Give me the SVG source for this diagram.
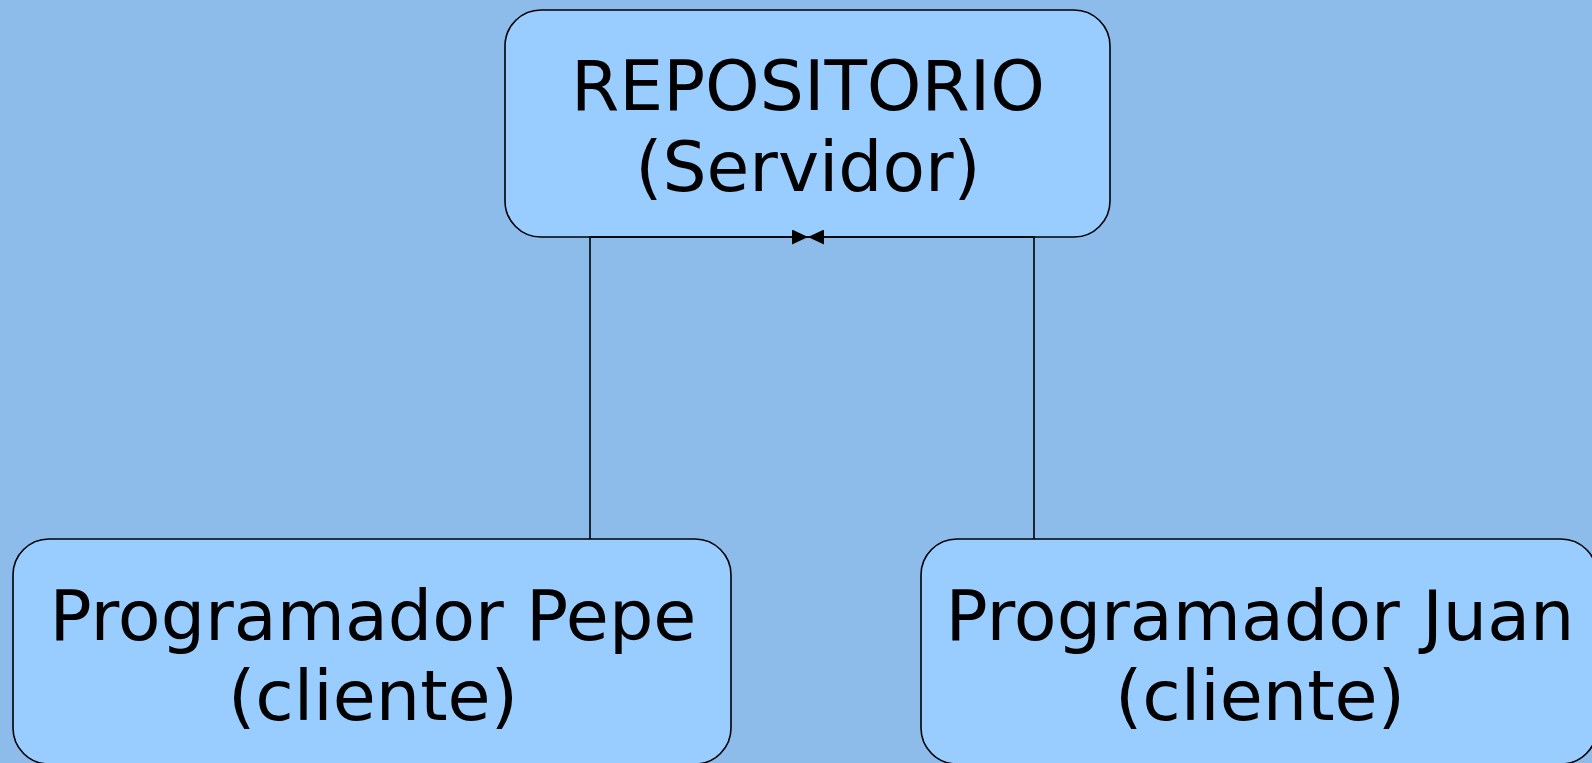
<svg xmlns="http://www.w3.org/2000/svg" width="1592" height="763" viewBox="0 0 1592 763">
<style>
.box{fill:#99ccff;stroke:#000;stroke-width:1.6}
.lbl{font-family:"DejaVu Sans","Liberation Sans",sans-serif;font-size:70px;fill:#000;text-anchor:middle}
.top{font-size:69.5px}
.con{fill:none;stroke:#000;stroke-width:1.6}
</style>
<defs>
<marker id="ah" viewBox="0 0 16 15" refX="16" refY="7.5" markerWidth="16" markerHeight="15" markerUnits="userSpaceOnUse" orient="auto">
<path d="M0,0 L16,7.5 L0,15 Z" fill="#000"/>
</marker>
</defs>
<rect x="0" y="0" width="1592" height="763" fill="#8dbceb"/>
<g id="repositorio">
<rect class="box" x="505" y="10" width="605" height="227" rx="36" ry="36"/>
<text class="lbl top" x="808" y="110">REPOSITORIO</text>
<text class="lbl top" x="808" y="191">(Servidor)</text>
</g>
<g id="pepe">
<rect class="box" x="13" y="539" width="718" height="225" rx="36" ry="36"/>
<text class="lbl" x="373" y="640">Programador Pepe</text>
<text class="lbl" x="373" y="720">(cliente)</text>
</g>
<g id="juan">
<rect class="box" x="921" y="539" width="676" height="225" rx="36" ry="36"/>
<text class="lbl" x="1260" y="640">Programador Juan</text>
<text class="lbl" x="1260" y="720">(cliente)</text>
</g>
<g id="connectors">
<path class="con" d="M590,539 V237 H808" marker-end="url(#ah)"/>
<path class="con" d="M1034,539 V237 H808" marker-end="url(#ah)"/>
</g>
</svg>
